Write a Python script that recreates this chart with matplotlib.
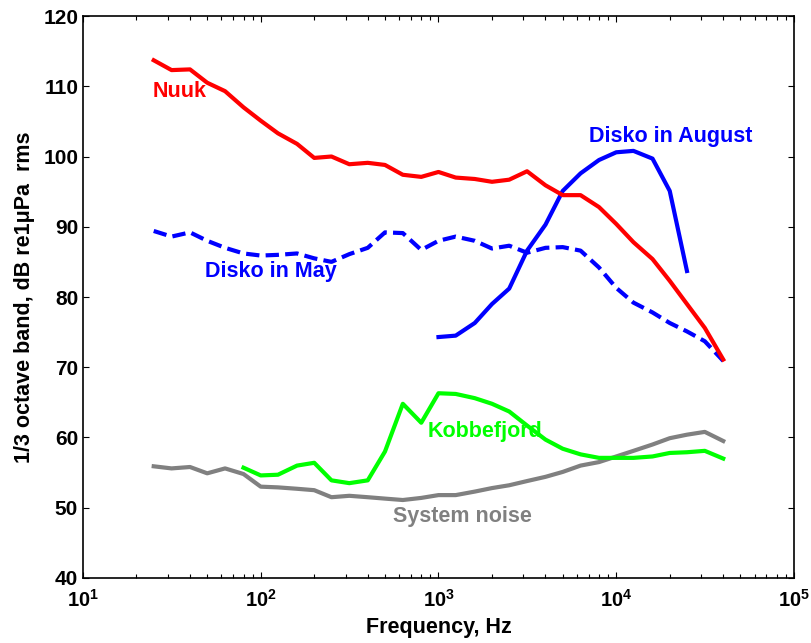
import math
import matplotlib
matplotlib.use("Agg")
import matplotlib.pyplot as plt
from matplotlib.ticker import FixedLocator, FuncFormatter, LogLocator, NullFormatter

plt.rcParams['font.family'] = ['Liberation Sans', 'DejaVu Sans']
plt.rcParams['font.weight'] = 'bold'
plt.rcParams['mathtext.fontset'] = 'custom'
plt.rcParams['mathtext.bf'] = 'Liberation Sans:bold'
plt.rcParams['mathtext.rm'] = 'Liberation Sans:bold'

freq_all = [25, 31.5, 40, 50, 63, 80, 100, 125, 160, 200, 250, 315, 400, 500, 630,
            800, 1000, 1250, 1600, 2000, 2500, 3150, 4000, 5000, 6300, 8000, 10000,
            12500, 16000, 20000, 25000, 31500, 40000]

nuuk = [113.7, 112.3, 112.4, 110.5, 109.3, 107.0, 105.1, 103.3, 101.8, 99.8, 100.0,
        98.9, 99.1, 98.8, 97.4, 97.1, 97.8, 97.0, 96.8, 96.4, 96.7, 97.9, 95.9, 94.5,
        94.5, 92.8, 90.4, 87.8, 85.4, 82.3, 79.0, 75.6, 71.1]

disko_may = [89.4, 88.6, 89.2, 88.0, 87.0, 86.2, 85.9, 86.0, 86.2, 85.5, 85.0, 86.1,
             87.0, 89.2, 89.1, 86.7, 88.0, 88.6, 88.0, 86.9, 87.3, 86.3, 87.0, 87.1,
             86.6, 84.2, 81.3, 79.2, 77.8, 76.3, 75.1, 73.7, 70.9]

freq_aug = [1000, 1250, 1600, 2000, 2500, 3150, 4000, 5000, 6300, 8000, 10000, 12500,
            16000, 20000, 25000]
disko_aug = [74.3, 74.5, 76.3, 79.0, 81.2, 86.6, 90.3, 95.1, 97.6, 99.5, 100.6, 100.8,
             99.7, 95.1, 83.7]

freq_kob = [80, 100, 125, 160, 200, 250, 315, 400, 500, 630, 800, 1000, 1250, 1600,
            2000, 2500, 3150, 4000, 5000, 6300, 8000, 10000, 12500, 16000, 20000,
            25000, 31500, 40000]
kobbefjord = [55.7, 54.6, 54.7, 56.0, 56.4, 53.9, 53.5, 53.9, 58.0, 64.8, 62.1, 66.3,
              66.2, 65.6, 64.8, 63.7, 61.7, 59.7, 58.4, 57.6, 57.1, 57.1, 57.1, 57.3,
              57.8, 57.9, 58.1, 57.0]

system_noise = [55.9, 55.6, 55.8, 54.9, 55.6, 54.8, 53.0, 52.9, 52.7, 52.5, 51.5, 51.7,
                51.5, 51.3, 51.1, 51.4, 51.8, 51.8, 52.3, 52.8, 53.2, 53.8, 54.4, 55.1,
                56.0, 56.5, 57.3, 58.1, 59.0, 59.9, 60.4, 60.8, 59.5]

y_ticks = list(range(40, 121, 10))
x_ticks = [10, 100, 1000, 10000, 100000]

fig = plt.figure(figsize=(8.12, 6.43), dpi=100)
ax = fig.add_axes([0.1022, 0.1011, 0.8756, 0.874])

lw = 3.0
ax.plot(freq_all, system_noise, color=(0.5, 0.5, 0.5), lw=lw)
ax.plot(freq_kob, kobbefjord, color=(0, 1, 0), lw=lw)
ax.plot(freq_all, disko_may, color=(0, 0, 1), lw=lw, linestyle=(0, (3.2, 1.5)))
ax.plot(freq_aug, disko_aug, color=(0, 0, 1), lw=lw)
ax.plot(freq_all, nuuk, color=(1, 0, 0), lw=lw)

ax.set_xscale('log')
ax.set_xlim(10, 1e5)
ax.set_ylim(40, 120)
ax.yaxis.set_major_locator(FixedLocator(y_ticks))
ax.xaxis.set_major_locator(FixedLocator(x_ticks))
ax.xaxis.set_major_formatter(FuncFormatter(lambda v, p: r'$\mathbf{10^{%d}}$' % round(math.log10(v))))
ax.xaxis.set_minor_locator(LogLocator(base=10, subs=range(2, 10), numticks=20))
ax.xaxis.set_minor_formatter(NullFormatter())

ax.tick_params(which='both', direction='in', top=True, right=True, width=0.8)
ax.tick_params(which='major', length=4)
ax.tick_params(which='minor', length=3)
ax.tick_params(axis='x', which='major', labelsize=14.5, pad=8)
ax.tick_params(axis='y', which='major', labelsize=15, pad=3.5)
for lab in ax.get_yticklabels():
    lab.set_fontweight('bold')
for s in ax.spines.values():
    s.set_linewidth(1.2)

ax.set_xlabel('Frequency, Hz', fontsize=15.5, fontweight='bold', labelpad=4)
ax.set_ylabel('1/3 octave band, dB re1\u03bcPa  rms', fontsize=15.5, fontweight='bold', labelpad=6)

fs = 15.5
ax.text(24.8, 109.2, 'Nuuk', color=(1, 0, 0), fontsize=fs, fontweight='bold', ha='left', va='center')
ax.text(7030, 102.8, 'Disko in August', color=(0, 0, 1), fontsize=fs, fontweight='bold', ha='left', va='center')
ax.text(48.5, 83.6, 'Disko in May', color=(0, 0, 1), fontsize=fs, fontweight='bold', ha='left', va='center')
ax.text(865, 60.8, 'Kobbefjord', color=(0, 1, 0), fontsize=fs, fontweight='bold', ha='left', va='center')
ax.text(557, 48.7, 'System noise', color=(0.5, 0.5, 0.5), fontsize=fs, fontweight='bold', ha='left', va='center')

fig.savefig('out.png', dpi=100)
